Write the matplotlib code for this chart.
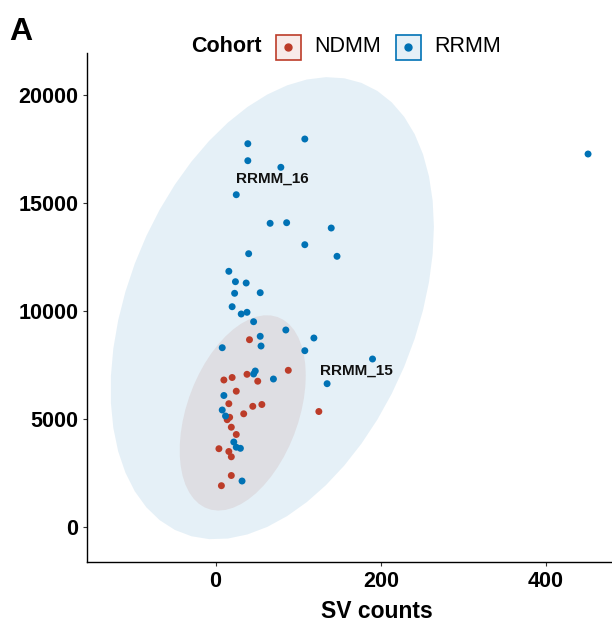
import numpy as np
import matplotlib
matplotlib.use("Agg")
import matplotlib.pyplot as plt
from matplotlib.patches import Polygon, Rectangle
from matplotlib.lines import Line2D

plt.rcParams['font.family'] = ['Liberation Sans', 'DejaVu Sans']

# RRMM cohort (SV counts, SNV counts)
rrmm_sv = [39, 108, 39, 79, 25, 66, 86, 140, 108, 40, 147, 16, 24, 37, 23,
           54, 20, 31, 38, 46, 85, 54, 119, 55, 8, 108, 190, 135, 46, 48,
           70, 10, 8, 12, 22, 25, 30, 32, 451]
rrmm_snv = [17745, 17963, 16958, 16652, 15382, 14057, 14085, 13839, 13066,
            12649, 12528, 11833, 11352, 11291, 10814, 10842, 10193, 9855,
            9934, 9498, 9114, 8822, 8743, 8372, 8293, 8155, 7770, 6626,
            7075, 7214, 6843, 6079, 5407, 5129, 3924, 3683, 3632, 2117,
            17268]

# NDMM cohort
ndmm_sv = [41, 88, 125, 10, 20, 38, 51, 25, 16, 45, 56, 34, 14, 17, 19,
           25, 4, 16, 19, 19, 7]
ndmm_snv = [8664, 7246, 5337, 6797, 6913, 7061, 6741, 6278, 5699, 5578,
            5662, 5231, 4958, 5069, 4610, 4272, 3614, 3484, 3239, 2372, 1900]

# labelled samples: (name, x, y)
labels = [("RRMM_16", 69, 16100), ("RRMM_15", 171, 7237)]

RED = "#BC3C29"
BLUE = "#0072B5"


def ellipse_pts(xs, ys, level=0.95, segments=51):
    # normal-theory confidence ellipse (like stat_ellipse type="norm")
    data = np.column_stack([xs, ys]).astype(float)
    center = data.mean(axis=0)
    shape = np.cov(data, rowvar=False)
    d2 = len(xs) - 1
    qf = d2 / 2 * ((1 - level) ** (-2 / d2) - 1)
    radius = np.sqrt(2 * qf)
    ang = np.linspace(0, 2 * np.pi, segments + 1)
    circle = np.column_stack([np.cos(ang), np.sin(ang)])
    L = np.linalg.cholesky(shape)
    return center + radius * (circle @ L.T)


W, H = 612, 626
fig = plt.figure(figsize=(W / 100, H / 100), dpi=100)
ax = fig.add_axes([86.8 / W, 1 - 562.4 / H, 1 - 86.8 / W, (562.4 - 53) / H])

for xs, ys, col in [(ndmm_sv, ndmm_snv, RED), (rrmm_sv, rrmm_snv, BLUE)]:
    pts = ellipse_pts(xs, ys)
    ax.add_patch(Polygon(pts, closed=True, facecolor=col, alpha=0.1,
                         edgecolor='none', zorder=1))

ax.scatter(ndmm_sv, ndmm_snv, s=25, color=RED, edgecolor='none', zorder=3)
ax.scatter(rrmm_sv, rrmm_snv, s=25, color=BLUE, edgecolor='none', zorder=3)

for name, lx, ly in labels:
    ax.text(lx, ly, name, fontsize=11, fontweight='bold', color='#111111',
            ha='center', va='center', zorder=4)

ax.set_xlim(-156, 480)
ax.set_ylim(-1654, 21948)
ax.set_xticks([0, 200, 400])
ax.set_yticks([0, 5000, 10000, 15000, 20000])
for s in ['top', 'right']:
    ax.spines[s].set_visible(False)
for s in ['left', 'bottom']:
    ax.spines[s].set_linewidth(1.0)
    ax.spines[s].set_color('black')
ax.tick_params(length=3, width=0.8, color='#333333', labelsize=15.5, pad=3)
for lab in ax.get_xticklabels() + ax.get_yticklabels():
    lab.set_fontweight('bold')
    lab.set_color('black')
# the source panel is cropped on the right, so its x title sits right of centre
ax.set_xlabel("SV counts", fontsize=16.5, fontweight='bold')
ax.xaxis.set_label_coords((376.6 - 86.8) / (W - 86.8), -(612 - 562.4) / (562.4 - 53),
                          transform=ax.transAxes)
ax.xaxis.label.set_va('center')

# y label sits mostly past the left edge, as in the source; keep a sliver visible
fig.text(4 / W, 1 - 307 / H, "SNV counts", rotation=90, ha='right', va='center',
         fontsize=16.5, fontweight='bold')

# panel tag
fig.text(9 / W, 1 - 40 / H, "A", fontsize=23, fontweight='bold', va='baseline')

# legend on top
ly = 1 - 47 / H
fig.text(191 / W, ly, "Cohort", fontsize=15.5, fontweight='bold', va='center')
for bx, col, name in [(276, RED, "NDMM"), (396, BLUE, "RRMM")]:
    fig.add_artist(Rectangle((bx / W, 1 - 59.5 / H), 24.5 / W, 24.5 / H,
                             transform=fig.transFigure, facecolor=col, alpha=0.1,
                             edgecolor='none'))
    fig.add_artist(Rectangle((bx / W, 1 - 59.5 / H), 24.5 / W, 24.5 / H,
                             transform=fig.transFigure, facecolor='none',
                             edgecolor=col, linewidth=1.2))
    fig.add_artist(Line2D([(bx + 12.25) / W], [1 - 47.2 / H], marker='o',
                          markersize=5, color=col, linestyle='none',
                          transform=fig.transFigure))
    fig.text((bx + 38) / W, ly, name, fontsize=15.5, va='center')

fig.savefig("out.png", dpi=100)
